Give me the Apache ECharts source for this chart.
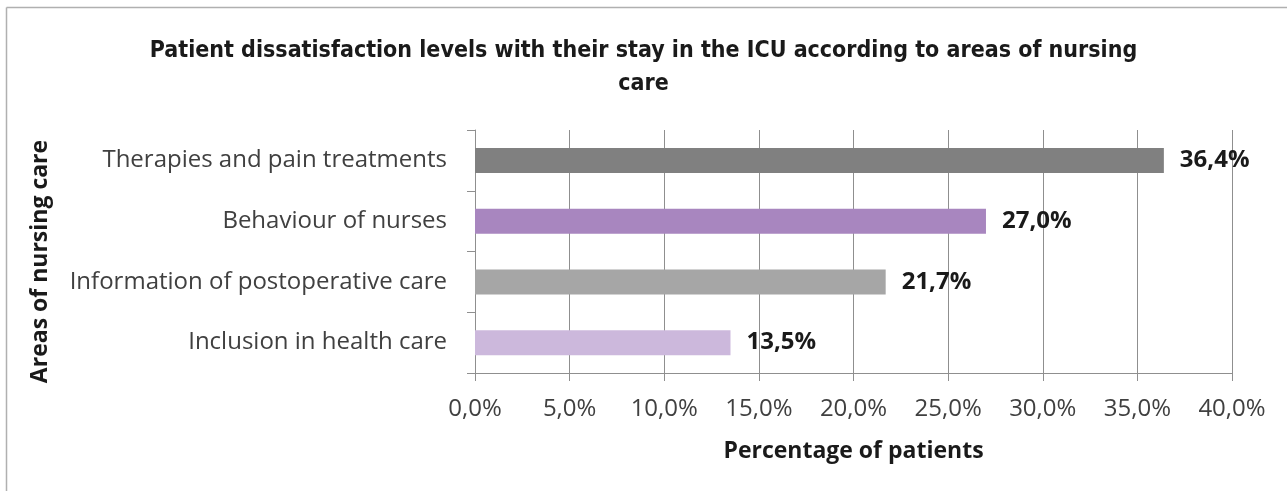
<!DOCTYPE html>
<html>
<head>
<meta charset="utf-8">
<script src="https://cdn.jsdelivr.net/npm/echarts@6/dist/echarts.min.js"></script>
<style>
html,body{margin:0;padding:0;background:#fff;}
#chart{width:1287px;height:491px;}
</style>
</head>
<body>
<div id="chart"></div>
<script>
// Data (bottom-to-top order as drawn on the category axis)
const categories = ['Inclusion in health care', 'Information of postoperative care', 'Behaviour of nurses', 'Therapies and pain treatments'];
const values = [13.5, 21.7, 27.0, 36.4];
const barColors = ['#ccb8dc', '#a6a6a6', '#a886bf', '#808080'];
const xTicks = { min: 0, max: 40, interval: 5 };
const titleText = 'Patient dissatisfaction levels with their stay in the ICU according to areas of nursing\ncare';
const xName = 'Percentage of patients';
const yName = 'Areas of nursing care';

const fmt = v => v.toFixed(1).replace('.', ',') + '%';
const labelFont = "'Open Sans', 'DejaVu Sans', sans-serif";
const titleFont = "'Liberation Sans Narrow', 'DejaVu Sans Condensed', 'Open Sans', sans-serif";
const lineColor = '#8f8f8f';

const chart = echarts.init(document.getElementById('chart'), null, { renderer: 'canvas' });
chart.setOption({
  animation: false,
  backgroundColor: '#ffffff',
  graphic: [
    { type: 'line', shape: { x1: 6.5, y1: 7.5, x2: 1287, y2: 7.5 }, style: { stroke: '#b0b0b0', lineWidth: 1.5 } },
    { type: 'line', shape: { x1: 6.5, y1: 7.5, x2: 6.5, y2: 491 }, style: { stroke: '#b0b0b0', lineWidth: 1.5 } }
  ],
  title: {
    text: titleText,
    left: 'center',
    top: 30,
    textStyle: { fontFamily: titleFont, fontWeight: 'bold', fontSize: 23, lineHeight: 33, color: '#1a1a1a' }
  },
  grid: { left: 475, right: 55, top: 130, bottom: 118, containLabel: false },
  xAxis: {
    type: 'value',
    min: xTicks.min, max: xTicks.max, interval: xTicks.interval,
    name: xName,
    nameLocation: 'middle',
    nameGap: 67,
    nameTextStyle: { fontFamily: labelFont, fontWeight: 'bold', fontSize: 23, color: '#1a1a1a' },
    axisLine: { show: true, lineStyle: { color: lineColor, width: 1 } },
    axisTick: { show: true, length: 8, lineStyle: { color: lineColor } },
    axisLabel: { formatter: fmt, margin: 24, fontFamily: labelFont, fontSize: 24, color: '#404040' },
    splitLine: { show: true, lineStyle: { color: lineColor, width: 1 } }
  },
  yAxis: {
    type: 'category',
    data: categories,
    name: yName,
    nameLocation: 'middle',
    nameRotate: 90,
    nameGap: 423,
    nameTextStyle: { fontFamily: labelFont, fontWeight: 'bold', fontSize: 23, color: '#1a1a1a', padding: [0, 20, 0, 0] },
    axisLine: { show: true, lineStyle: { color: lineColor, width: 1 } },
    axisTick: { show: true, length: 8, alignWithLabel: false, lineStyle: { color: lineColor } },
    axisLabel: { margin: 28, fontFamily: labelFont, fontSize: 24, color: '#404040' },
    splitLine: { show: false }
  },
  series: [{
    type: 'bar',
    barWidth: 25,
    data: values.map((v, i) => ({ value: v, itemStyle: { color: barColors[i] } })),
    label: {
      show: true,
      position: 'right',
      distance: 16,
      formatter: p => fmt(p.value),
      fontFamily: labelFont,
      fontWeight: 'bold',
      fontSize: 24,
      color: '#1a1a1a'
    }
  }]
});
</script>
</body>
</html>
